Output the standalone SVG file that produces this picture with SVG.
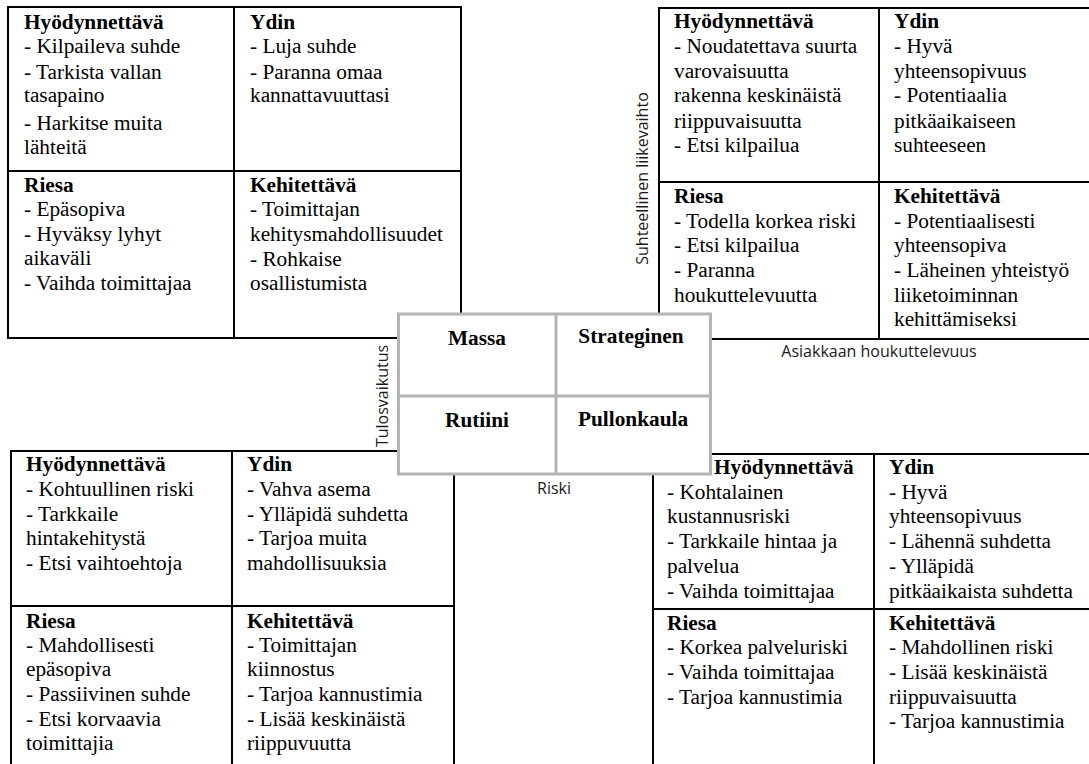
<svg xmlns="http://www.w3.org/2000/svg" width="1089" height="764" viewBox="0 0 1089 764">
<style>
.bg{fill:#ffffff}
.tbl{fill:#ffffff;stroke:#000000;stroke-width:2}
.ln{stroke:#000000;stroke-width:2;fill:none}
.cbox{fill:#ffffff;stroke:#b4b4b4;stroke-width:3}
.cln{stroke:#b4b4b4;stroke-width:3;fill:none}
.t{font-family:"Liberation Serif","Times New Roman",serif;font-size:21.3px;fill:#000000}
.h{font-weight:bold}
.lab{font-family:"Open Sans","Noto Sans",sans-serif;font-size:16px;fill:#1a1a1a}
.ct{font-family:"Liberation Serif","Times New Roman",serif;font-size:21.3px;font-weight:bold;fill:#000000;text-anchor:middle}
</style>
<rect class="bg" x="0" y="0" width="1089" height="764"/>

<g id="table-top-left">
  <rect class="tbl" x="8" y="7" width="453" height="331"/>
  <line class="ln" x1="234" y1="7" x2="234" y2="338"/>
  <line class="ln" x1="8" y1="171" x2="461" y2="171"/>
  <g id="tl-hyodynnettava">
    <text class="t"><tspan class="h" x="24" y="29">Hyödynnettävä</tspan><tspan x="24" y="53">- Kilpaileva suhde</tspan><tspan x="24" y="79">- Tarkista vallan</tspan><tspan x="24" y="102">tasapaino</tspan><tspan x="24" y="130">- Harkitse muita</tspan><tspan x="24" y="154">lähteitä</tspan></text>
  </g>
  <g id="tl-ydin">
    <text class="t"><tspan class="h" x="250" y="29">Ydin</tspan><tspan x="250" y="53">- Luja suhde</tspan><tspan x="250" y="79">- Paranna omaa</tspan><tspan x="250" y="102">kannattavuuttasi</tspan></text>
  </g>
  <g id="tl-riesa">
    <text class="t"><tspan class="h" x="24" y="192">Riesa</tspan><tspan x="24" y="216">- Epäsopiva</tspan><tspan x="24" y="241">- Hyväksy lyhyt</tspan><tspan x="24" y="265">aikaväli</tspan><tspan x="24" y="290">- Vaihda toimittajaa</tspan></text>
  </g>
  <g id="tl-kehitettava">
    <text class="t"><tspan class="h" x="250" y="192">Kehitettävä</tspan><tspan x="250" y="216">- Toimittajan</tspan><tspan x="250" y="241">kehitysmahdollisuudet</tspan><tspan x="250" y="266">- Rohkaise</tspan><tspan x="250" y="290">osallistumista</tspan></text>
  </g>
</g>

<g id="table-top-right">
  <rect class="tbl" x="659" y="8" width="440" height="331"/>
  <line class="ln" x1="879" y1="8" x2="879" y2="339"/>
  <line class="ln" x1="659" y1="182" x2="1099" y2="182"/>
  <g id="tr-hyodynnettava">
    <text class="t"><tspan class="h" x="674" y="28">Hyödynnettävä</tspan><tspan x="674" y="53">- Noudatettava suurta</tspan><tspan x="674" y="78">varovaisuutta</tspan><tspan x="674" y="102">rakenna keskinäistä</tspan><tspan x="674" y="128">riippuvaisuutta</tspan><tspan x="674" y="152">- Etsi kilpailua</tspan></text>
  </g>
  <g id="tr-ydin">
    <text class="t"><tspan class="h" x="894" y="28">Ydin</tspan><tspan x="894" y="53">- Hyvä</tspan><tspan x="894" y="78">yhteensopivuus</tspan><tspan x="894" y="102">- Potentiaalia</tspan><tspan x="894" y="128">pitkäaikaiseen</tspan><tspan x="894" y="152">suhteeseen</tspan></text>
  </g>
  <g id="tr-riesa">
    <text class="t"><tspan class="h" x="674" y="203">Riesa</tspan><tspan x="674" y="228">- Todella korkea riski</tspan><tspan x="674" y="252">- Etsi kilpailua</tspan><tspan x="674" y="277">- Paranna</tspan><tspan x="674" y="302">houkuttelevuutta</tspan></text>
  </g>
  <g id="tr-kehitettava">
    <text class="t"><tspan class="h" x="894" y="203">Kehitettävä</tspan><tspan x="894" y="228">- Potentiaalisesti</tspan><tspan x="894" y="252">yhteensopiva</tspan><tspan x="894" y="277">- Läheinen yhteistyö</tspan><tspan x="894" y="302">liiketoiminnan</tspan><tspan x="894" y="326">kehittämiseksi</tspan></text>
  </g>
</g>

<g id="table-bottom-left">
  <rect class="tbl" x="11" y="451" width="443" height="320"/>
  <line class="ln" x1="232" y1="451" x2="232" y2="771"/>
  <line class="ln" x1="11" y1="606" x2="454" y2="606"/>
  <g id="bl-hyodynnettava">
    <text class="t"><tspan class="h" x="26" y="471">Hyödynnettävä</tspan><tspan x="26" y="496">- Kohtuullinen riski</tspan><tspan x="26" y="521">- Tarkkaile</tspan><tspan x="26" y="545">hintakehitystä</tspan><tspan x="26" y="570">- Etsi vaihtoehtoja</tspan></text>
  </g>
  <g id="bl-ydin">
    <text class="t"><tspan class="h" x="247" y="471">Ydin</tspan><tspan x="247" y="496">- Vahva asema</tspan><tspan x="247" y="521">- Ylläpidä suhdetta</tspan><tspan x="247" y="545">- Tarjoa muita</tspan><tspan x="247" y="570">mahdollisuuksia</tspan></text>
  </g>
  <g id="bl-riesa">
    <text class="t"><tspan class="h" x="26" y="628">Riesa</tspan><tspan x="26" y="652">- Mahdollisesti</tspan><tspan x="26" y="676">epäsopiva</tspan><tspan x="26" y="701">- Passiivinen suhde</tspan><tspan x="26" y="726">- Etsi korvaavia</tspan><tspan x="26" y="750">toimittajia</tspan></text>
  </g>
  <g id="bl-kehitettava">
    <text class="t"><tspan class="h" x="247" y="628">Kehitettävä</tspan><tspan x="247" y="652">- Toimittajan</tspan><tspan x="247" y="676">kiinnostus</tspan><tspan x="247" y="701">- Tarjoa kannustimia</tspan><tspan x="247" y="726">- Lisää keskinäistä</tspan><tspan x="247" y="750">riippuvuutta</tspan></text>
  </g>
</g>

<g id="table-bottom-right">
  <rect class="tbl" x="653" y="454" width="446" height="317"/>
  <line class="ln" x1="874" y1="454" x2="874" y2="771"/>
  <line class="ln" x1="653" y1="609" x2="1099" y2="609"/>
  <g id="br-hyodynnettava">
    <text class="t"><tspan class="h" x="714" y="474">Hyödynnettävä</tspan><tspan x="667" y="499">- Kohtalainen</tspan><tspan x="667" y="523">kustannusriski</tspan><tspan x="667" y="548">- Tarkkaile hintaa ja</tspan><tspan x="667" y="573">palvelua</tspan><tspan x="667" y="598">- Vaihda toimittajaa</tspan></text>
  </g>
  <g id="br-ydin">
    <text class="t"><tspan class="h" x="889" y="474">Ydin</tspan><tspan x="889" y="499">- Hyvä</tspan><tspan x="889" y="523">yhteensopivuus</tspan><tspan x="889" y="548">- Lähennä suhdetta</tspan><tspan x="889" y="573">- Ylläpidä</tspan><tspan x="889" y="598">pitkäaikaista suhdetta</tspan></text>
  </g>
  <g id="br-riesa">
    <text class="t"><tspan class="h" x="667" y="630">Riesa</tspan><tspan x="667" y="654">- Korkea palveluriski</tspan><tspan x="667" y="679">- Vaihda toimittajaa</tspan><tspan x="667" y="704">- Tarjoa kannustimia</tspan></text>
  </g>
  <g id="br-kehitettava">
    <text class="t"><tspan class="h" x="889" y="630">Kehitettävä</tspan><tspan x="889" y="654">- Mahdollinen riski</tspan><tspan x="889" y="679">- Lisää keskinäistä</tspan><tspan x="889" y="704">riippuvaisuutta</tspan><tspan x="889" y="728">- Tarjoa kannustimia</tspan></text>
  </g>
</g>

<g id="center-matrix">
  <rect class="cbox" x="398.5" y="314" width="312" height="160"/>
  <line class="cln" x1="556" y1="314" x2="556" y2="474"/>
  <line class="cln" x1="398.5" y1="396" x2="710.5" y2="396"/>
  <g id="c-massa"><text class="ct" x="477" y="345">Massa</text></g>
  <g id="c-strateginen"><text class="ct" x="631" y="343">Strateginen</text></g>
  <g id="c-rutiini"><text class="ct" x="477" y="427">Rutiini</text></g>
  <g id="c-pullonkaula"><text class="ct" x="633" y="426">Pullonkaula</text></g>
</g>

<g id="axis-labels">
  <text class="lab" text-anchor="middle" transform="translate(648,178.5) rotate(-90)">Suhteellinen liikevaihto</text>
  <text class="lab" x="879" y="357" text-anchor="middle">Asiakkaan houkuttelevuus</text>
  <text class="lab" text-anchor="middle" transform="translate(388,396) rotate(-90)">Tulosvaikutus</text>
  <text class="lab" x="554" y="494" text-anchor="middle">Riski</text>
</g>
<g id="connectors"/>
</svg>
